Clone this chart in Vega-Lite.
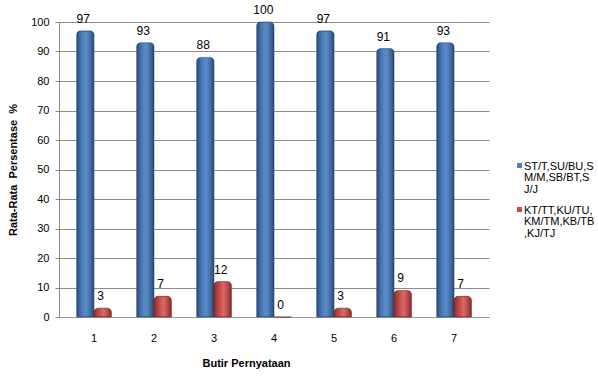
{
  "$schema": "https://vega.github.io/schema/vega-lite/v6.json",
  "autosize": {"type": "none"},
  "width": 430,
  "height": 295,
  "padding": {"left": 59, "top": 22, "right": 109, "bottom": 59},
  "background": "white",
  "config": {
    "font": "Liberation Sans",
    "view": {"stroke": null},
    "axis": {"labelFont": "Liberation Sans", "titleFont": "Liberation Sans", "labelColor": "#000000", "titleColor": "#000000"}
  },
  "data": {
    "values": [
      {"butir": "1", "seri": "ST/T,SU/BU,SM/M,SB/BT,SJ/J", "nilai": 97},
      {"butir": "2", "seri": "ST/T,SU/BU,SM/M,SB/BT,SJ/J", "nilai": 93},
      {"butir": "3", "seri": "ST/T,SU/BU,SM/M,SB/BT,SJ/J", "nilai": 88},
      {"butir": "4", "seri": "ST/T,SU/BU,SM/M,SB/BT,SJ/J", "nilai": 100},
      {"butir": "5", "seri": "ST/T,SU/BU,SM/M,SB/BT,SJ/J", "nilai": 97},
      {"butir": "6", "seri": "ST/T,SU/BU,SM/M,SB/BT,SJ/J", "nilai": 91},
      {"butir": "7", "seri": "ST/T,SU/BU,SM/M,SB/BT,SJ/J", "nilai": 93},
      {"butir": "1", "seri": "KT/TT,KU/TU,KM/TM,KB/TB,KJ/TJ", "nilai": 3},
      {"butir": "2", "seri": "KT/TT,KU/TU,KM/TM,KB/TB,KJ/TJ", "nilai": 7},
      {"butir": "3", "seri": "KT/TT,KU/TU,KM/TM,KB/TB,KJ/TJ", "nilai": 12},
      {"butir": "4", "seri": "KT/TT,KU/TU,KM/TM,KB/TB,KJ/TJ", "nilai": 0},
      {"butir": "5", "seri": "KT/TT,KU/TU,KM/TM,KB/TB,KJ/TJ", "nilai": 3},
      {"butir": "6", "seri": "KT/TT,KU/TU,KM/TM,KB/TB,KJ/TJ", "nilai": 9},
      {"butir": "7", "seri": "KT/TT,KU/TU,KM/TM,KB/TB,KJ/TJ", "nilai": 7}
    ]
  },
  "encoding": {
    "x": {
      "field": "butir",
      "type": "nominal",
      "scale": {"paddingInner": 0.42, "paddingOuter": 0.293},
      "axis": {
        "title": "Butir Pernyataan",
        "titleFontSize": 11,
        "titleFontWeight": "bold",
        "titleX": 187,
        "titleY": 46,
        "titleAlign": "center",
        "titleBaseline": "middle",
        "labelAngle": 0,
        "labelFontSize": 11,
        "labelPadding": 15,
        "ticks": false,
        "domainColor": "#9a9a9a",
        "grid": false
      }
    },
    "xOffset": {
      "field": "seri",
      "type": "nominal",
      "scale": {"domain": ["ST/T,SU/BU,SM/M,SB/BT,SJ/J", "KT/TT,KU/TU,KM/TM,KB/TB,KJ/TJ"]}
    },
    "y": {
      "field": "nilai",
      "type": "quantitative",
      "scale": {"domain": [0, 100]},
      "axis": {
        "title": "Rata-Rata\u00a0 Persentase\u00a0 %",
        "titleFontSize": 11,
        "titleFontWeight": "bold",
        "titlePadding": 12,
        "values": [0, 10, 20, 30, 40, 50, 60, 70, 80, 90, 100],
        "labelFontSize": 11,
        "labelPadding": 6,
        "tickSize": 4,
        "tickColor": "#8c8c8c",
        "domainColor": "#8c8c8c",
        "gridColor": "#8c8c8c",
        "gridWidth": 1
      }
    }
  },
  "layer": [
    {
      "mark": {"type": "bar", "cornerRadiusEnd": 4},
      "encoding": {
        "color": {
          "field": "seri",
          "type": "nominal",
          "scale": {
            "domain": ["ST/T,SU/BU,SM/M,SB/BT,SJ/J", "KT/TT,KU/TU,KM/TM,KB/TB,KJ/TJ"],
            "range": ["#4F81BD", "#C0504D"]
          },
          "legend": {
            "title": null,
            "orient": "none",
            "legendX": 455,
            "legendY": 138,
            "symbolType": "square",
            "symbolSize": 25,
            "symbolStrokeWidth": 0,
            "labelFont": "Liberation Sans",
            "labelFontSize": 11,
            "labelLimit": 200,
            "labelOffset": 0,
            "labelBaseline": "top",
            "labelExpr": "[substring(datum.label, 0, 12), substring(datum.label, 12, 23), substring(datum.label, 23)]",
            "rowPadding": 9,
            "encode": {
              "labels": {"update": {"lineHeight": {"value": 11.5}, "dy": {"value": -5}, "dx": {"value": -1}}}
            }
          }
        }
      }
    },
    {
      "transform": [{"filter": "datum.seri == 'ST/T,SU/BU,SM/M,SB/BT,SJ/J'"}],
      "mark": {
        "type": "bar",
        "cornerRadiusEnd": 4,
        "stroke": "#2C4D75",
        "strokeWidth": 0.6,
        "color": {
          "gradient": "linear",
          "x1": 0, "y1": 0, "x2": 1, "y2": 0,
          "stops": [
            {"offset": 0, "color": "#2A4A74"},
            {"offset": 0.3, "color": "#4A7AB8"},
            {"offset": 0.55, "color": "#5C8CC9"},
            {"offset": 0.85, "color": "#3D6699"},
            {"offset": 1, "color": "#24416A"}
          ]
        }
      }
    },
    {
      "transform": [{"filter": "datum.seri == 'KT/TT,KU/TU,KM/TM,KB/TB,KJ/TJ'"}],
      "mark": {
        "type": "bar",
        "cornerRadiusEnd": 4,
        "stroke": "#7E2A28",
        "strokeWidth": 0.6,
        "color": {
          "gradient": "linear",
          "x1": 0, "y1": 0, "x2": 1, "y2": 0,
          "stops": [
            {"offset": 0, "color": "#8A2D2A"},
            {"offset": 0.3, "color": "#C44B48"},
            {"offset": 0.55, "color": "#D86A67"},
            {"offset": 0.85, "color": "#B0403D"},
            {"offset": 1, "color": "#842A27"}
          ]
        }
      }
    },
    {
      "mark": {"type": "text", "baseline": "bottom", "dy": -5, "dx": -2, "fontSize": 12, "font": "Liberation Sans", "color": "#000000"},
      "encoding": {
        "text": {"field": "nilai", "type": "quantitative"}
      }
    }
  ]
}
